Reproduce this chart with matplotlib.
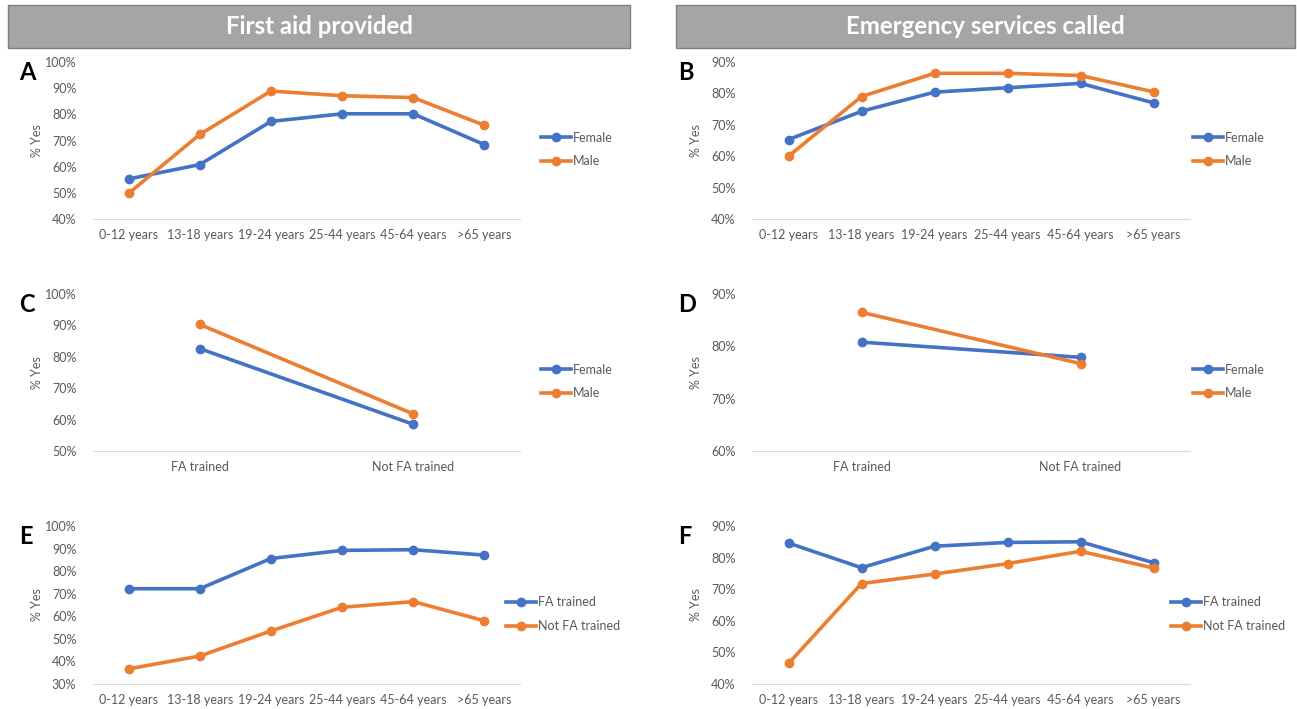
import matplotlib
matplotlib.use('Agg')
import matplotlib.pyplot as plt
from matplotlib.patches import Rectangle

plt.rcParams['font.family'] = ['Lato', 'DejaVu Sans']

# data
age_groups = ['0-12 years', '13-18 years', '19-24 years', '25-44 years', '45-64 years', '>65 years']
training = ['FA trained', 'Not FA trained']

a_female = [55.3, 60.8, 77.3, 80.2, 80.2, 68.4]
a_male = [49.8, 72.3, 88.9, 87.1, 86.4, 75.8]
b_female = [65.3, 74.3, 80.4, 81.8, 83.2, 77.0]
b_male = [60.0, 79.0, 86.4, 86.4, 85.7, 80.5]
c_female = [82.6, 58.5]
c_male = [90.3, 61.8]
d_female = [80.8, 77.9]
d_male = [86.5, 76.7]
e_trained = [72.2, 72.2, 85.6, 89.2, 89.5, 87.1]
e_not_trained = [36.7, 42.4, 53.5, 64.0, 66.5, 58.0]
f_trained = [84.6, 76.8, 83.6, 84.8, 85.0, 78.4]
f_not_trained = [46.5, 71.8, 74.8, 78.1, 82.0, 76.7]

headers = ['First aid provided', 'Emergency services called']

BLUE = '#4472C4'
ORANGE = '#ED7D31'
GRAY_TXT = '#595959'

W, H = 1297, 709
fig = plt.figure(figsize=(W / 100, H / 100), dpi=100)


def px_rect(x0, y0, x1, y1):
    return [x0 / W, 1 - y1 / H, (x1 - x0) / W, (y1 - y0) / H]


def panel(box, cats, s1, s2, names, ylo, yhi, step, letter, leg_x):
    x0, y0, x1, y1 = box
    ax = fig.add_axes(px_rect(x0, y0, x1, y1))
    xs = [i + 0.5 for i in range(len(cats))]
    ax.plot(xs, s1, color=BLUE, lw=2.6, marker='o', ms=6, label=names[0])
    ax.plot(xs, s2, color=ORANGE, lw=2.6, marker='o', ms=6, label=names[1])
    ax.set_xlim(0, len(cats))
    ax.set_ylim(ylo, yhi)
    ticks = list(range(ylo, yhi + 1, step))
    ax.set_yticks(ticks)
    ax.set_yticklabels([f'{t}%' for t in ticks])
    ax.set_xticks(xs)
    ax.set_xticklabels(cats)
    ax.tick_params(length=0, labelsize=9, colors=GRAY_TXT)
    ax.tick_params(axis='y', pad=12)
    ax.tick_params(axis='x', pad=7)
    for s in ['top', 'right', 'left']:
        ax.spines[s].set_visible(False)
    ax.spines['bottom'].set_color('#D9D9D9')
    ax.patch.set_alpha(0)
    # legend to the right of the plot, a bit below the middle
    ymid = (y0 + y1) / 2
    leg_y = ymid + 9
    ax.legend(loc='center left', bbox_to_anchor=((leg_x - x0) / (x1 - x0), 1 - (leg_y - y0) / (y1 - y0)),
              frameon=False, fontsize=9, handlelength=2.4, handletextpad=0.15,
              labelspacing=0.95, borderpad=0, borderaxespad=0, labelcolor=GRAY_TXT)
    fig.text((x0 - 56) / W, 1 - ymid / H, '% Yes', rotation=90, ha='center', va='center',
             fontsize=9, color=GRAY_TXT)
    fig.text((x0 - 74) / W, 1 - (y0 + 10) / H, letter, ha='left', va='center',
             fontsize=17, fontweight='bold', color='black')
    return ax


# header boxes
for (hx0, hx1), txt in zip([(8, 630), (676, 1295)], headers):
    fig.patches.append(Rectangle((hx0 / W, 1 - 48 / H), (hx1 - hx0) / W, 43 / H,
                                 transform=fig.transFigure, facecolor='#A5A5A5',
                                 edgecolor='#7F7F7F', lw=1))
    fig.text((hx0 + hx1) / 2 / W, 1 - 27 / H, txt, ha='center', va='center',
             color='white', fontsize=17.3, fontweight='bold')

panel((93, 62, 520, 219), age_groups, a_female, a_male, ['Female', 'Male'], 40, 100, 10, 'A', 541)
panel((752, 62, 1190, 219), age_groups, b_female, b_male, ['Female', 'Male'], 40, 90, 10, 'B', 1193)
panel((93, 294, 520, 451), training, c_female, c_male, ['Female', 'Male'], 50, 100, 10, 'C', 541)
panel((752, 294, 1190, 451), training, d_female, d_male, ['Female', 'Male'], 60, 90, 10, 'D', 1193)
panel((93, 526, 520, 684), age_groups, e_trained, e_not_trained, ['FA trained', 'Not FA trained'], 30, 100, 10, 'E', 506)
panel((752, 526, 1190, 684), age_groups, f_trained, f_not_trained, ['FA trained', 'Not FA trained'], 40, 90, 10, 'F', 1171)

fig.savefig('out.png', dpi=100, facecolor='white')
